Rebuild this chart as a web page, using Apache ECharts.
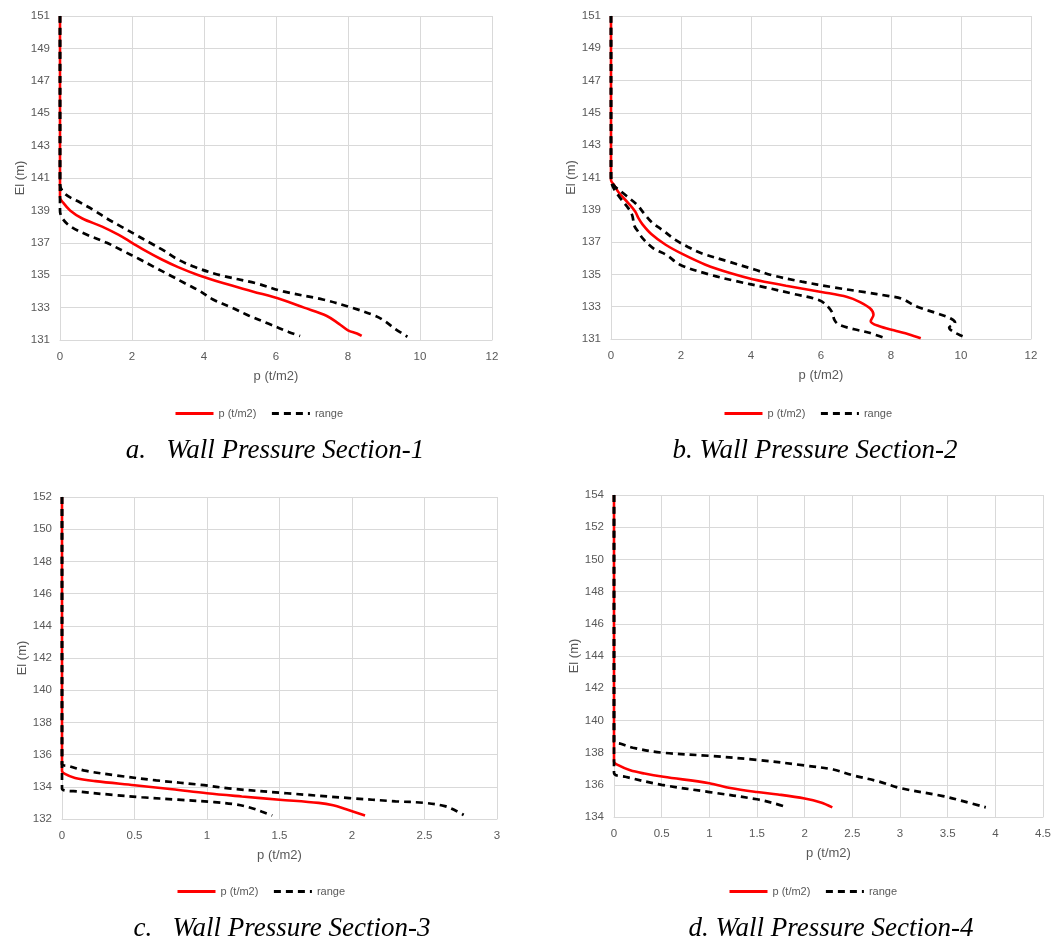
<!DOCTYPE html>
<html><head><meta charset="utf-8">
<script src="https://cdn.jsdelivr.net/npm/echarts@6/dist/echarts.min.js"></script>
<style>html,body{margin:0;padding:0;background:#fff}#c{width:1054px;height:944px}</style>
</head><body><div id="c"></div>
<script>
// ---------- DATA ----------
const seriesNames = ['p (t/m2)', 'range'];
const captions = ['a.   Wall Pressure Section-1', 'b. Wall Pressure Section-2', 'c.   Wall Pressure Section-3', 'd. Wall Pressure Section-4'];

// Section 1
const s1_p_el  = [151, 139.8, 139.5, 139.0, 138.5, 138.0, 137.5, 137.0, 136.5, 136.0, 135.5, 135.0, 134.5, 134.0, 133.5, 133.0, 132.5, 132.0, 131.6, 131.4, 131.25];
const s1_p     = [0, 0, 0.08, 0.28, 0.62, 1.17, 1.62, 2.0, 2.38, 2.8, 3.28, 3.85, 4.55, 5.35, 6.15, 6.78, 7.4, 7.75, 8.0, 8.25, 8.38];
const s1_up_el = [151, 140.6, 140.0, 139.5, 139.0, 138.5, 138.0, 137.5, 137.0, 136.5, 136.0, 135.5, 135.0, 134.5, 134.0, 133.5, 133.0, 132.5, 132.2, 131.7, 131.2];
const s1_up    = [0, 0, 0.15, 0.55, 0.95, 1.3, 1.7, 2.1, 2.5, 2.9, 3.25, 3.75, 4.45, 5.45, 6.2, 7.3, 8.1, 8.75, 9.0, 9.3, 9.65];
const s1_lo_el = [151, 139.0, 138.5, 138.0, 137.5, 137.0, 136.5, 136.0, 135.5, 135.0, 134.5, 134.0, 133.5, 133.0, 132.5, 132.0, 131.5, 131.25];
const s1_lo    = [0, 0, 0.07, 0.3, 0.75, 1.3, 1.75, 2.2, 2.62, 3.05, 3.47, 3.9, 4.25, 4.77, 5.25, 5.8, 6.35, 6.67];

// Section 2
const s2_p_el  = [151, 140.85, 140.5, 140.1, 139.4, 138.9, 138.5, 138.1, 137.5, 136.85, 136.25, 135.6, 135.05, 134.7, 134.3, 133.9, 133.6, 133.3, 132.9, 132.5, 132.1, 131.8, 131.5, 131.3, 131.05];
const s2_p     = [0, 0, 0.1, 0.21, 0.5, 0.69, 0.78, 0.9, 1.15, 1.55, 2.05, 2.7, 3.45, 4.05, 5.0, 6.05, 6.75, 7.1, 7.4, 7.5, 7.42, 7.65, 8.15, 8.5, 8.85];
const s2_up_el = [151, 141.1, 140.55, 139.9, 139.3, 138.7, 138.2, 137.7, 137.15, 136.7, 136.3, 135.8, 135.3, 134.95, 134.55, 134.2, 133.9, 133.65, 133.5, 133.0, 132.6, 132.25, 132.0, 131.7, 131.45, 131.2, 131.05];
const s2_up    = [0, 0, 0.07, 0.42, 0.75, 0.97, 1.18, 1.5, 1.83, 2.2, 2.6, 3.35, 4.1, 4.6, 5.45, 6.35, 7.25, 7.95, 8.3, 8.75, 9.3, 9.72, 9.83, 9.66, 9.78, 10.02, 10.18];
const s2_lo_el = [151, 140.9, 140.4, 139.8, 139.2, 138.7, 138.0, 137.7, 137.2, 136.6, 136.2, 135.6, 135.0, 134.6, 134.2, 133.8, 133.4, 133.0, 132.6, 132.2, 131.9, 131.6, 131.4, 131.05];
const s2_lo    = [0, 0, 0.06, 0.24, 0.46, 0.6, 0.67, 0.76, 0.92, 1.22, 1.59, 1.97, 2.8, 3.54, 4.4, 5.2, 5.95, 6.2, 6.33, 6.38, 6.5, 6.95, 7.35, 7.83];

// Section 3
const s3_p_el  = [152, 135.0, 134.8, 134.55, 134.35, 134.1, 133.85, 133.6, 133.4, 133.2, 133.0, 132.85, 132.6, 132.22];
const s3_p     = [0, 0, 0.02, 0.09, 0.23, 0.5, 0.76, 1.0, 1.24, 1.5, 1.77, 1.87, 1.96, 2.09];
const s3_up_el = [152, 135.4, 135.3, 135.0, 134.7, 134.4, 134.1, 133.9, 133.6, 133.3, 133.1, 133.0, 132.8, 132.5, 132.25];
const s3_up    = [0, 0, 0.04, 0.16, 0.38, 0.65, 0.98, 1.15, 1.55, 1.98, 2.3, 2.5, 2.64, 2.72, 2.77];
const s3_lo_el = [152, 133.9, 133.7, 133.5, 133.35, 133.2, 133.05, 132.9, 132.7, 132.45, 132.22];
const s3_lo    = [0, 0, 0.12, 0.35, 0.55, 0.8, 1.05, 1.2, 1.3, 1.38, 1.45];

// Section 4
const s4_p_el  = [154, 137.45, 137.2, 136.9, 136.7, 136.5, 136.1, 135.8, 135.55, 135.4, 135.15, 134.9, 134.6];
const s4_p     = [0, 0, 0.05, 0.17, 0.32, 0.52, 1.0, 1.22, 1.5, 1.72, 2.0, 2.17, 2.29];
const s4_up_el = [154, 138.7, 138.55, 138.3, 138.0, 137.8, 137.55, 137.2, 136.95, 136.6, 136.2, 135.8, 135.3, 135.0, 134.6];
const s4_up    = [0, 0, 0.07, 0.2, 0.5, 1.0, 1.5, 2.0, 2.3, 2.5, 2.78, 3.0, 3.45, 3.65, 3.9];
const s4_lo_el = [154, 136.75, 136.5, 136.0, 135.55, 135.1, 134.85, 134.6];
const s4_lo    = [0, 0, 0.12, 0.5, 1.0, 1.5, 1.68, 1.82];

// Tick labels
const xTicks12 = [0, 2, 4, 6, 8, 10, 12];
const xTicks3  = [0, 0.5, 1, 1.5, 2, 2.5, 3];
const xTicks45 = [0, 0.5, 1, 1.5, 2, 2.5, 3, 3.5, 4, 4.5];
const yTicks1  = [131, 133, 135, 137, 139, 141, 143, 145, 147, 149, 151];
const yTicks3  = [132, 134, 136, 138, 140, 142, 144, 146, 148, 150, 152];
const yTicks4  = [134, 136, 138, 140, 142, 144, 146, 148, 150, 152, 154];

// ---------- LAYOUT / STYLE ----------
const SANS = "'Liberation Sans Narrow','Liberation Sans',Arial,sans-serif";
const GRIDC = '#d9d9d9', TXT = '#595959';
const panels = [
  {grid:{left:60, top:16, width:432, height:324}, xt:xTicks12, yt:yTicks1,
   data:[[s1_p,s1_p_el],[s1_up,s1_up_el],[s1_lo,s1_lo_el]], legend:{left:174, top:408}, cap:{x:275, y:451}},
  {grid:{left:611, top:16, width:420, height:323}, xt:xTicks12, yt:yTicks1,
   data:[[s2_p,s2_p_el],[s2_up,s2_up_el],[s2_lo,s2_lo_el]], legend:{left:723, top:408}, cap:{x:815, y:451}},
  {grid:{left:62, top:497, width:435, height:322}, xt:xTicks3, yt:yTicks3,
   data:[[s3_p,s3_p_el],[s3_up,s3_up_el],[s3_lo,s3_lo_el]], legend:{left:176, top:886}, cap:{x:282, y:929}},
  {grid:{left:614, top:495, width:429, height:322}, xt:xTicks45, yt:yTicks4,
   data:[[s4_p,s4_p_el],[s4_up,s4_up_el],[s4_lo,s4_lo_el]], legend:{left:728, top:886}, cap:{x:831, y:929}}
];

const zip = (xs, ys) => xs.map((v, i) => [v, ys[i]]);

const option = {
  backgroundColor: '#ffffff',
  animation: false,
  grid: [], xAxis: [], yAxis: [], series: [], legend: [], graphic: []
};

panels.forEach((pn, i) => {
  option.grid.push(Object.assign({containLabel:false}, pn.grid));
  option.xAxis.push({
    type:'value', gridIndex:i, min:pn.xt[0], max:pn.xt[pn.xt.length-1], interval:pn.xt[1]-pn.xt[0],
    name:'p (t/m2)', nameLocation:'middle', nameGap:30,
    nameTextStyle:{color:TXT, fontSize:13, fontFamily:SANS},
    axisLine:{show:true, lineStyle:{color:GRIDC, width:1}},
    axisTick:{show:false},
    axisLabel:{color:TXT, fontSize:11.5, fontFamily:SANS, margin:11},
    splitLine:{show:true, lineStyle:{color:GRIDC, width:1}}
  });
  option.yAxis.push({
    type:'value', gridIndex:i, min:pn.yt[0], max:pn.yt[pn.yt.length-1],
    name:'El (m)', nameLocation:'middle', nameGap:31,
    nameTextStyle:{color:TXT, fontSize:13, fontFamily:SANS},
    axisLine:{show:true, lineStyle:{color:GRIDC, width:1}},
    axisTick:{show:false, customValues:pn.yt},
    axisLabel:{color:TXT, fontSize:11.5, fontFamily:SANS, margin:10, customValues:pn.yt},
    splitLine:{show:true, lineStyle:{color:GRIDC, width:1}}
  });
  pn.data.forEach((d, k) => {
    option.series.push({
      type:'line', name: k === 0 ? seriesNames[0] : seriesNames[1],
      xAxisIndex:i, yAxisIndex:i, data: zip(d[0], d[1]),
      showSymbol:false, symbol:'none', smooth:0.35, z: k === 0 ? 2 : 3,
      lineStyle: k === 0 ? {color:'#ff0000', width:2.6} : {color:'#000000', width:2.7, type:[7,5]},
      itemStyle:{color: k === 0 ? '#ff0000' : '#000000'}
    });
  });
  option.legend.push({
    left:pn.legend.left, top:pn.legend.top, orient:'horizontal', padding:0,
    data:seriesNames, itemWidth:38, itemHeight:12, itemGap:14,
    selectedMode:false,
    itemStyle:{opacity:0},
    lineStyle:{width:3},
    textStyle:{color:TXT, fontSize:11, fontFamily:SANS}
  });
  option.graphic.push({
    type:'text', x:pn.cap.x, y:pn.cap.y,
    style:{text:captions[i], align:'center', verticalAlign:'middle',
      font:"italic 27px 'Liberation Serif','Times New Roman',serif", fill:'#000'}
  });
});

const chart = echarts.init(document.getElementById('c'), null, {renderer:'canvas'});
chart.setOption(option);
</script>
</body></html>
